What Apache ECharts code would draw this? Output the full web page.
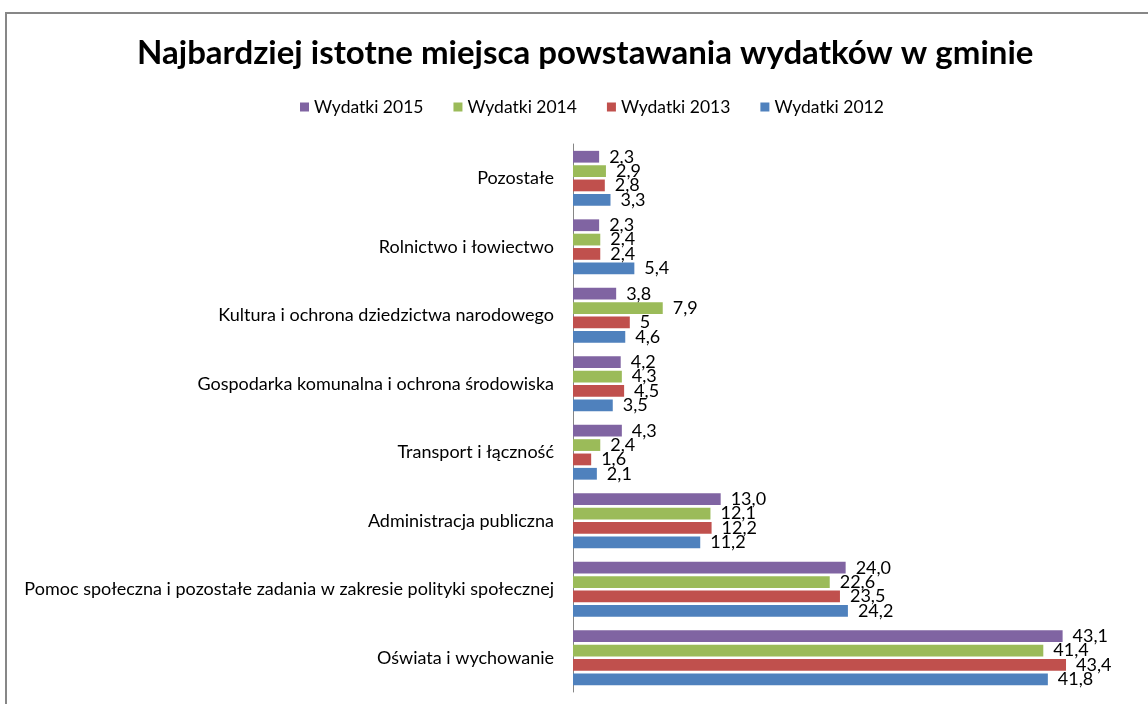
<!DOCTYPE html>
<html>
<head>
<meta charset="utf-8">
<script src="https://cdn.jsdelivr.net/npm/echarts@6/dist/echarts.min.js"></script>
<style>
  html, body { margin: 0; padding: 0; background: #fff; }
  #chart { width: 1148px; height: 704px; }
</style>
</head>
<body>
<div id="chart"></div>
<script>
// categories listed bottom to top (category axis starts at the bottom)
const categories = [
  "Oświata i wychowanie",
  "Pomoc społeczna i pozostałe zadania w zakresie polityki społecznej",
  "Administracja publiczna",
  "Transport i łączność",
  "Gospodarka komunalna i ochrona środowiska",
  "Kultura i ochrona dziedzictwa narodowego",
  "Rolnictwo i łowiectwo",
  "Pozostałe"
];

// series order: first one is drawn at the top of each group
const years = ["Wydatki 2015", "Wydatki 2014", "Wydatki 2013", "Wydatki 2012"];

const values2015 = [43.1, 24.0, 13.0, 4.3, 4.2, 3.8, 2.3, 2.3];
const values2014 = [41.4, 22.6, 12.1, 2.4, 4.3, 7.9, 2.4, 2.9];
const values2013 = [43.4, 23.5, 12.2, 1.6, 4.5, 5.0, 2.4, 2.8];
const values2012 = [41.8, 24.2, 11.2, 2.1, 3.5, 4.6, 5.4, 3.3];

// labels as printed on the chart
const labels2015 = ["43,1", "24,0", "13,0", "4,3", "4,2", "3,8", "2,3", "2,3"];
const labels2014 = ["41,4", "22,6", "12,1", "2,4", "4,3", "7,9", "2,4", "2,9"];
const labels2013 = ["43,4", "23,5", "12,2", "1,6", "4,5", "5", "2,4", "2,8"];
const labels2012 = ["41,8", "24,2", "11,2", "2,1", "3,5", "4,6", "5,4", "3,3"];

const colors = ["#8064A2", "#9BBB59", "#C0504D", "#4F81BD"];
const allValues = [values2015, values2014, values2013, values2012];
const allLabels = [labels2015, labels2014, labels2013, labels2012];

const FONT = "Lato";

const chart = echarts.init(document.getElementById("chart"), null, { renderer: "canvas" });

const series = years.map((name, i) => ({
  name: name,
  type: "bar",
  data: allValues[i],
  barCategoryGap: "20%",
  barGap: "22%",
  itemStyle: { color: colors[i] },
  label: {
    show: true,
    position: "right",
    distance: 10,
    color: "#000",
    fontFamily: FONT,
    fontSize: 18,
    formatter: (p) => allLabels[i][p.dataIndex]
  }
}));

const option = {
  animation: false,
  backgroundColor: "#fff",
  graphic: [{
    type: "rect",
    shape: { x: 6, y: 13, width: 1300, height: 900 },
    style: { fill: "none", stroke: "#878787", lineWidth: 2 },
    silent: true
  }],
  title: {
    text: "Najbardziej istotne miejsca powstawania wydatków w gminie",
    left: 132,
    top: 32,
    textStyle: { fontFamily: FONT, fontWeight: "bold", fontSize: 33, color: "#000" }
  },
  legend: {
    data: years,
    top: 93,
    left: 295,
    itemWidth: 9,
    itemHeight: 9,
    itemGap: 30,
    icon: "rect",
    textStyle: { fontFamily: FONT, fontSize: 17.5, color: "#000" }
  },
  grid: { left: 573, right: 7, top: 144, bottom: 12, containLabel: false },
  xAxis: {
    type: "value",
    min: 0,
    max: 50,
    axisLine: { show: false },
    axisTick: { show: false },
    axisLabel: { show: false },
    splitLine: { show: false }
  },
  yAxis: {
    type: "category",
    data: categories,
    axisLine: { show: true, lineStyle: { color: "#868686", width: 1 } },
    axisTick: { show: false },
    axisLabel: { fontFamily: FONT, fontSize: 18, color: "#000", margin: 19 }
  },
  series: series
};

chart.setOption(option);
</script>
</body>
</html>
